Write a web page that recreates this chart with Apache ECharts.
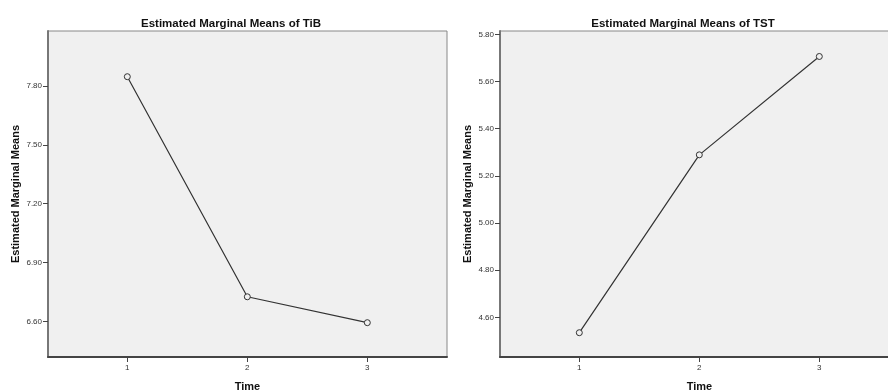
<!DOCTYPE html>
<html>
<head>
<meta charset="utf-8">
<script src="https://cdn.jsdelivr.net/npm/echarts@6/dist/echarts.min.js"></script>
<style>
html, body { margin: 0; padding: 0; background: #fff; }
#chart { width: 888px; height: 392px; }
</style>
</head>
<body>
<div id="chart"></div>
<script>
// time points
var times = [1, 2, 3];
// estimated marginal means
var tibMeans = [7.847, 6.725, 6.593];
var tstMeans = [4.535, 5.289, 5.706];
// tick labels of the two y axes
var tibTicks = [6.6, 6.9, 7.2, 7.5, 7.8];
var tstTicks = [4.6, 4.8, 5.0, 5.2, 5.4, 5.6, 5.8];

var chart = echarts.init(document.getElementById('chart'));

var font = 'Liberation Sans, Arial, sans-serif';

function pairs(xs, ys) {
    return xs.map(function (x, i) { return [x, ys[i]]; });
}

function xAxis(idx) {
    return {
        type: 'value',
        gridIndex: idx,
        min: 0.339,
        max: 3.664,
        name: 'Time',
        nameLocation: 'middle',
        nameGap: 24,
        nameTextStyle: { fontFamily: font, fontWeight: 'bold', fontSize: 11, color: '#111' },
        splitLine: { show: false },
        axisLine: { lineStyle: { color: '#444', width: 2 } },
        axisTick: { customValues: times, length: 5, lineStyle: { color: '#444' } },
        axisLabel: { customValues: times, fontFamily: font, fontSize: 8, color: '#333', margin: 7 }
    };
}

function yAxis(idx, min, max, ticks) {
    return {
        type: 'value',
        gridIndex: idx,
        min: min,
        max: max,
        name: 'Estimated Marginal Means',
        nameLocation: 'middle',
        nameGap: 27,
        nameTextStyle: { fontFamily: font, fontWeight: 'bold', fontSize: 11, color: '#111' },
        splitLine: { show: false },
        axisLine: { show: true, lineStyle: { color: '#777', width: 2 } },
        axisTick: { show: true, customValues: ticks, length: 5, lineStyle: { color: '#444' } },
        axisLabel: {
            customValues: ticks,
            fontFamily: font, fontSize: 8, color: '#333', margin: 6,
            formatter: function (v) { return v.toFixed(2); }
        }
    };
}

function series(idx, ys) {
    return {
        type: 'line',
        xAxisIndex: idx,
        yAxisIndex: idx,
        data: pairs(times, ys),
        symbol: 'circle',
        symbolSize: 6,
        showAllSymbol: true,
        lineStyle: { color: '#333', width: 1.2 },
        itemStyle: { color: '#f0f0f0', borderColor: '#333', borderWidth: 1 },
        animation: false
    };
}

var option = {
    animation: false,
    title: [
        {
            text: 'Estimated Marginal Means of TiB',
            left: 226, top: 13, textAlign: 'center',
            textStyle: { fontFamily: font, fontWeight: 'bold', fontSize: 11.5, color: '#111' }
        },
        {
            text: 'Estimated Marginal Means of TST',
            left: 678, top: 13, textAlign: 'center',
            textStyle: { fontFamily: font, fontWeight: 'bold', fontSize: 11.5, color: '#111' }
        }
    ],
    grid: [
        { left: 48, top: 31, width: 399, height: 326, outerBoundsMode: 'none', show: true, backgroundColor: '#f0f0f0', borderColor: '#888', borderWidth: 1 },
        { left: 500, top: 31, width: 399, height: 326, outerBoundsMode: 'none', show: true, backgroundColor: '#f0f0f0', borderColor: '#888', borderWidth: 1 }
    ],
    xAxis: [xAxis(0), xAxis(1)],
    yAxis: [yAxis(0, 6.418, 8.08, tibTicks), yAxis(1, 4.432, 5.814, tstTicks)],
    series: [series(0, tibMeans), series(1, tstMeans)]
};

chart.setOption(option);
</script>
</body>
</html>
